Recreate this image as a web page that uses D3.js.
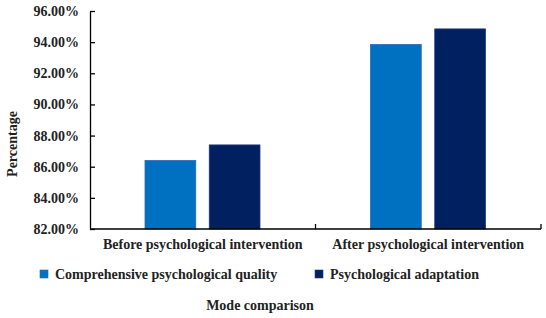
<!DOCTYPE html>
<html>
<head>
<meta charset="utf-8">
<script src="https://cdn.jsdelivr.net/npm/d3@7"></script>
<style>
  body { margin: 0; background: #fff; }
  svg text { font-family: "Liberation Serif", "Times New Roman", serif; font-weight: bold; fill: #222; }
</style>
</head>
<body>
<svg id="chart"></svg>
<script>
// chart data
const categories = ["Before psychological intervention", "After psychological intervention"];
const seriesNames = ["Comprehensive psychological quality", "Psychological adaptation"];
const qualityValues = [86.4, 93.85];
const adaptationValues = [87.4, 94.85];
const yTicks = [82, 84, 86, 88, 90, 92, 94, 96];
const colors = ["#0070C0", "#002060"];
const strokes = ["#2a6cb0", "#223a78"];

const width = 546, height = 318;
const margin = {top: 11, right: 5, bottom: 89, left: 90};
const innerW = width - margin.left - margin.right;
const innerH = height - margin.top - margin.bottom;

const svg = d3.select("#chart")
    .attr("width", width)
    .attr("height", height);

const chart = svg.append("g")
    .attr("transform", `translate(${margin.left},${margin.top})`);

const xScale = d3.scaleBand()
    .domain(categories)
    .range([0, innerW]);

const xInner = d3.scaleBand()
    .domain(seriesNames)
    .range([55, 170])
    .paddingInner(0.21);

const yScale = d3.scaleLinear()
    .domain([82, 96])
    .range([innerH, 0]);

const rows = categories.map((c, i) => ({
  category: c,
  values: [qualityValues[i], adaptationValues[i]]
}));

// bars
const groups = chart.selectAll(".cat")
  .data(rows)
  .join("g")
    .attr("class", "cat")
    .attr("transform", d => `translate(${xScale(d.category)},0)`);

groups.selectAll("rect")
  .data(d => d.values.map((v, j) => ({name: seriesNames[j], value: v, j: j})))
  .join("rect")
    .attr("x", d => xInner(d.name))
    .attr("width", xInner.bandwidth())
    .attr("y", d => yScale(d.value))
    .attr("height", d => innerH - yScale(d.value))
    .attr("fill", d => colors[d.j])
    .attr("stroke", d => strokes[d.j])
    .attr("stroke-width", 0.8);

// y axis, ticks pointing inward
const yAxis = d3.axisLeft(yScale)
    .tickValues(yTicks)
    .tickSize(-5)
    .tickSizeOuter(0)
    .tickPadding(11)
    .tickFormat(d => d.toFixed(2) + "%");

const yAxisG = chart.append("g")
    .attr("class", "axis y-axis")
    .call(yAxis);

yAxisG.select(".domain").attr("stroke", "#000").attr("stroke-width", 1.3);
yAxisG.selectAll(".tick line").attr("stroke", "#000").attr("stroke-width", 1.3);
yAxisG.selectAll(".tick text")
    .attr("font-size", "14px")
    .attr("fill", "#222");

// x axis with boundary ticks
const xAxisG = chart.append("g")
    .attr("class", "axis x-axis")
    .attr("transform", `translate(0,${innerH})`);

xAxisG.append("line")
    .attr("x1", 0).attr("x2", innerW)
    .attr("stroke", "#000").attr("stroke-width", 1.3);

xAxisG.selectAll(".bound")
  .data([categories[1], null])
  .join("line")
    .attr("class", "bound")
    .attr("x1", d => d ? xScale(d) : innerW)
    .attr("x2", d => d ? xScale(d) : innerW)
    .attr("y1", 0).attr("y2", -5)
    .attr("stroke", "#000").attr("stroke-width", 1.3);

xAxisG.selectAll(".cat-label")
  .data(categories)
  .join("text")
    .attr("class", "cat-label")
    .attr("x", d => xScale(d) + xScale.bandwidth() / 2)
    .attr("y", 20)
    .attr("text-anchor", "middle")
    .attr("font-size", "14px")
    .text(d => d);

// y title
svg.append("text")
    .attr("transform", "rotate(-90)")
    .attr("x", -144)
    .attr("y", 17)
    .attr("text-anchor", "middle")
    .attr("font-size", "14px")
    .text("Percentage");

// legend
const legendX = [40, 315];
const legend = svg.selectAll(".legend")
  .data(seriesNames)
  .join("g")
    .attr("class", "legend")
    .attr("transform", (d, i) => `translate(${legendX[i]},270)`);

legend.append("rect")
    .attr("width", 8).attr("height", 8)
    .attr("fill", (d, i) => colors[i])
    .attr("stroke", (d, i) => strokes[i])
    .attr("stroke-width", 0.6);

legend.append("text")
    .attr("x", 15)
    .attr("y", 9)
    .attr("font-size", "14px")
    .text(d => d);

// x title
svg.append("text")
    .attr("x", 260)
    .attr("y", 310)
    .attr("text-anchor", "middle")
    .attr("font-size", "14px")
    .text("Mode comparison");
</script>
</body>
</html>
